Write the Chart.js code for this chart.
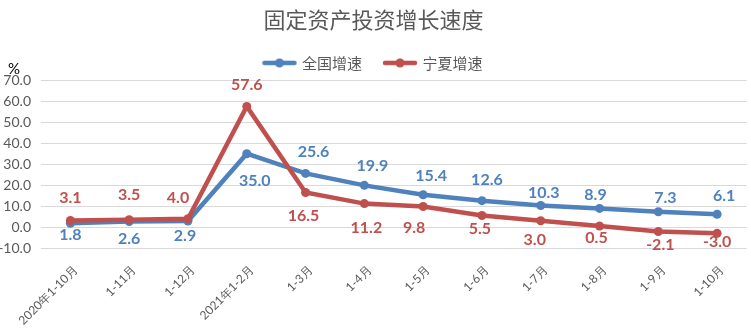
<!DOCTYPE html>
<html>
<head>
<meta charset="utf-8">
<script src="https://cdn.jsdelivr.net/npm/chart.js@4/dist/chart.umd.min.js"></script>
<style>
body{margin:0;background:#fff;}
#wrap{position:relative;width:751px;height:336px;}
#pct{position:absolute;left:8px;top:59px;font:15px Lato,sans-serif;color:#000;}
</style>
</head>
<body>
<div id="wrap">
<canvas id="investChart" width="751" height="336"></canvas>
<div id="pct">%</div>
</div>
<script>
// ===============================
// Data
// ===============================

const months=['2020年1-10月','1-11月','1-12月','2021年1-2月','1-3月','1-4月','1-5月','1-6月','1-7月','1-8月','1-9月','1-10月'];

const nationalGrowth=[1.8,2.6,2.9,35.0,25.6,19.9,15.4,12.6,10.3,8.9,7.3,6.1];

const ningxiaGrowth=[3.1,3.5,4.0,57.6,16.5,11.2,9.8,5.5,3.0,0.5,-2.1,-3.0];

const yTicks=[70,60,50,40,30,20,10,0,-10];

// label offsets (px) from each point, as placed in the original
const blueDx=[0,0,-3,8,8,8,8,5,3,-4,7,7];
const blueDy=[12,17,15,27,-22,-20,-19,-21,-13,-14,-14,-18];
const redDx=[0,0,-10,0,-2,2,-9,-2,-6,-3,2,0];
const redDy=[-23,-25,-21,-22,23,24,21,13,19,12,13,9];

const blue='#4f81bd';
const red='#c0504d';

// ===============================
// Legend icons (line + dot)
// ===============================

function makeIcon(color){
const c=document.createElement('canvas');
c.width=36;c.height=10;
const g=c.getContext('2d');
g.strokeStyle=color;
g.lineWidth=4.5;
g.lineCap='round';
g.beginPath();g.moveTo(3,5);g.lineTo(33,5);g.stroke();
g.fillStyle=color;
g.beginPath();g.arc(18,5,4.5,0,Math.PI*2);g.fill();
return c;
}

const icons=[makeIcon(blue),makeIcon(red)];

// ===============================
// Value labels
// ===============================

const valueLabels={
id:'valueLabels',
afterDatasetsDraw(chart){
const ctx=chart.ctx;
ctx.save();
ctx.font='bold 16px Lato, sans-serif';
ctx.textAlign='center';
ctx.textBaseline='middle';
chart.data.datasets.forEach((ds,i)=>{
const meta=chart.getDatasetMeta(i);
const dx=i===0?blueDx:redDx;
const dy=i===0?blueDy:redDy;
meta.data.forEach((pt,j)=>{
ctx.fillStyle=ds.borderColor;
ctx.fillText(ds.data[j].toFixed(1),pt.x+dx[j],pt.y+dy[j]);
});
});
ctx.restore();
}
};

// ===============================
// Chart
// ===============================

const ctx=document.getElementById('investChart');

new Chart(ctx,{

type:'line',

data:{
labels:months,
datasets:[{
label:'全国增速',
data:nationalGrowth,
borderColor:blue,
backgroundColor:blue,
pointBackgroundColor:blue,
borderWidth:4.5,
pointRadius:4.5,
pointBorderWidth:0,
tension:0,
order:1
},{
label:'宁夏增速',
data:ningxiaGrowth,
borderColor:red,
backgroundColor:red,
pointBackgroundColor:red,
borderWidth:4.5,
pointRadius:4.5,
pointBorderWidth:0,
tension:0,
order:0
}]
},

options:{
responsive:false,
animation:false,
layout:{padding:{left:0,right:4,top:0,bottom:0}},
plugins:{
title:{
display:true,
text:'固定资产投资增长速度',
color:'#595959',
font:{family:'Noto Sans CJK SC',size:22,weight:'normal'},
padding:{top:6,bottom:0}
},
legend:{
position:'top',
labels:{
usePointStyle:true,
pointStyleWidth:30,
padding:23,
color:'#595959',
font:{family:'Noto Sans CJK SC',size:15},
generateLabels(chart){
const items=Chart.defaults.plugins.legend.labels.generateLabels(chart);
items.forEach(it=>{it.pointStyle=icons[it.datasetIndex];});
return items.sort((a,b)=>a.datasetIndex-b.datasetIndex);
}
}
},
tooltip:{enabled:false}
},
scales:{
x:{
offset:true,
grid:{display:false},
border:{display:false},
ticks:{
autoSkip:false,
minRotation:45,
maxRotation:45,
padding:7,
labelOffset:5,
color:'#595959',
font:{family:'Lato',size:12}
},
afterFit(scale){scale.height=88;}
},
y:{
min:-10,
max:70,
grid:{color:'#d9d9d9',drawTicks:false},
border:{display:false},
afterBuildTicks(scale){scale.ticks=yTicks.map(v=>({value:v}));},
ticks:{
padding:10,
color:'#595959',
font:{family:'Lato',size:14},
callback:v=>v.toFixed(1)
},
afterFit(scale){scale.width=41;}
}
}
},

plugins:[valueLabels]

});
</script>
</body>
</html>
